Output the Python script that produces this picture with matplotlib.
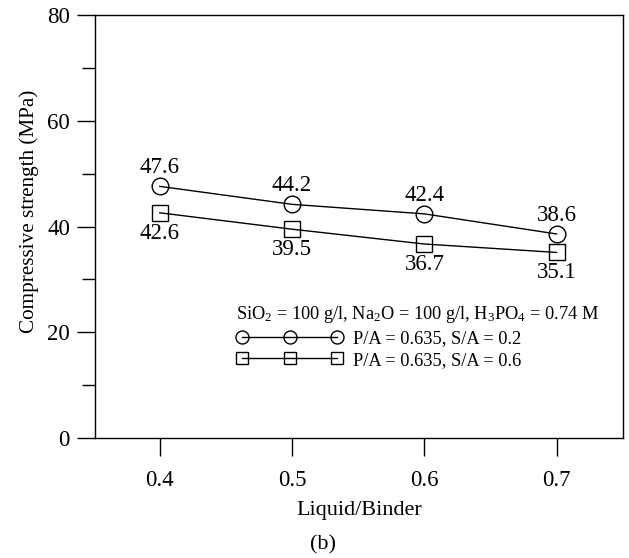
"""
Compressive strength versus liquid/binder ratio for two S/A ratios.
"""
import matplotlib.pyplot as plt
from matplotlib.ticker import MultipleLocator

plt.rcParams['font.family'] = ['Liberation Serif', 'DejaVu Serif']
plt.rcParams['mathtext.fontset'] = 'custom'
plt.rcParams['mathtext.rm'] = 'Liberation Serif'
plt.rcParams['mathtext.it'] = 'Liberation Serif:italic'

liquid_binder = [0.4, 0.5, 0.6, 0.7]
strength_sa02 = [47.6, 44.2, 42.4, 38.6]
strength_sa06 = [42.6, 39.5, 36.7, 35.1]
label_sa02 = 'P/A = 0.635, S/A = 0.2'
label_sa06 = 'P/A = 0.635, S/A = 0.6'
legend_title = r'SiO$_2$ = 100 g/l, Na$_2$O = 100 g/l, H$_3$PO$_4$ = 0.74 M'

fig = plt.figure(figsize=(6.29, 5.58), dpi=100)
ax = fig.add_axes([0.151, 0.215, 0.839, 0.758])

ax.plot(liquid_binder, strength_sa02, color='black', linewidth=1,
        marker='o', markersize=12, markerfacecolor='none',
        markeredgecolor='black', markeredgewidth=1, label=label_sa02)
ax.plot(liquid_binder, strength_sa06, color='black', linewidth=1,
        marker='s', markersize=11.5, markerfacecolor='none',
        markeredgecolor='black', markeredgewidth=1, label=label_sa06)

# value labels: circles above, squares below
for x, y in zip(liquid_binder, strength_sa02):
    ax.annotate(f'{y:.1f}', (x, y), xytext=(0, 6), textcoords='offset points',
                ha='center', va='bottom', fontsize=16.5)
for x, y in zip(liquid_binder, strength_sa06):
    ax.annotate(f'{y:.1f}', (x, y), xytext=(0, -7), textcoords='offset points',
                ha='center', va='top', fontsize=16.5)

ax.set_xlim(0.351, 0.75)
ax.set_ylim(0, 80)
ax.set_xticks(liquid_binder)
ax.yaxis.set_major_locator(MultipleLocator(20))
ax.yaxis.set_minor_locator(MultipleLocator(10))
ax.tick_params(axis='both', direction='out', length=13, width=1,
               labelsize=16.5, pad=5)
ax.tick_params(axis='x', length=13, pad=10)
ax.tick_params(axis='y', which='minor', length=9.5, width=1)
for spine in ax.spines.values():
    spine.set_linewidth(1)

ax.set_xlabel('Liquid/Binder', fontsize=16, labelpad=7)
ax.set_ylabel('Compressive strength (MPa)', fontsize=15.2)
ax.yaxis.set_label_coords(-0.107, 0.537)

leg = ax.legend(title=legend_title, loc='upper left',
                bbox_to_anchor=(0.268, 0.318), frameon=False, numpoints=3,
                handlelength=5.8, handletextpad=0.55, markerscale=0.78,
                fontsize=13.2, title_fontsize=13.2, labelspacing=0.25,
                borderpad=0, borderaxespad=0)
leg._legend_box.align = 'left'
leg._legend_box.sep = 4

fig.text(0.513, 0.024, '(b)', ha='center', va='center', fontsize=16)

fig.savefig('out.png', dpi=100)
